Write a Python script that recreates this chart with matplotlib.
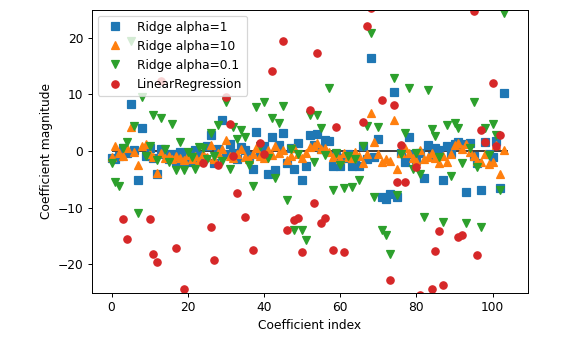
import numpy as np
import matplotlib
matplotlib.use("Agg")
import matplotlib.pyplot as plt

ridge1 = [
    -1.2, -1.5, -0.8, 0.5, -0.3, 8.3, 0.2, -5.1, 4.0, -0.9,
    0.6, -1.3, -4.1, 0.3, -0.6, -1.4, -0.5, -1.9, -0.2, -1.7,
    -0.4, -2.0, 0.2, -0.7, -1.3, 0.9, 2.8, -2.2, 0.4, 5.5,
    -0.6, 1.2, -0.3, -1.5, 0.7, 0.2, -0.9, -3.1, 3.4, -0.4,
    0.9, -4.0, 2.5, -3.4, 1.0, 3.1, -2.1, 0.5, -3.2, 1.4,
    -5.1, -2.6, 2.8, 1.1, 3.0, 0.4, 1.9, 1.7, -2.6, -0.8,
    -2.6, -1.2, -0.5, -2.6, -1.4, -2.6, 0.8, -1.5, 16.5, -1.0,
    2.1, -8.1, -8.5, -7.6, 10.5, -8.1, -0.3, -1.9, 2.5, -0.6,
    -1.6, -0.4, -4.8, 1.1, -0.9, 0.5, 0.2, -5.1, 0.9, -0.4,
    1.3, 1.6, 1.2, -7.2, 1.5, -0.9, -2.1, -6.9, 1.6, -0.5,
    -1.1, 1.8, -6.5, 10.3,
]

ridge10 = [
    -1.0, 0.8, -0.4, -0.9, 0.5, 4.3, -0.2, -2.5, 0.9, 1.2,
    -0.6, -1.1, -3.8, -0.3, -1.2, -0.8, -1.5, -0.9, -1.3, -1.6,
    -0.7, -1.4, -0.9, -1.8, -0.5, -1.1, 1.1, -1.5, -0.4, 0.3,
    1.9, -0.8, -1.2, -0.6, 0.4, -1.0, -1.4, -0.5, 0.6, -0.8,
    -1.3, 0.2, -0.7, 0.8, -0.4, 0.1, -1.6, -0.9, 0.5, -0.5,
    -1.2, -0.3, 0.7, 0.9, 1.4, 0.3, 0.6, -0.2, -1.0, -0.6,
    -1.5, -0.4, -1.1, -1.3, -0.2, -0.8, -2.1, -0.5, 6.8, 1.65,
    -0.6, -1.9, -1.5, -1.7, 5.5, -3.1, -0.3, 0.5, -0.4, -1.2,
    -1.8, 0.2, -1.4, -1.0, -0.4, -1.2, -2.2, -0.9, -1.9, -0.6,
    1.0, 1.5, 0.4, 1.2, -0.2, -0.8, -1.8, -2.0, -0.6, -2.3,
    -1.9, 1.0, -4.0, 0.2,
]

ridge01 = [
    -2.2, -5.4, -6.2, 0.6, 1.65, 19.35, 4.5, -11.0, 9.6, -0.8,
    0.9, 6.4, -1.6, 5.8, 0.4, -1.9, 4.8, -3.4, 1.65, -3.4,
    -0.2, -1.1, -3.1, 0.7, 0.5, -1.4, 3.1, -0.9, 4.6, -1.8,
    8.7, -3.1, 4.3, 2.2, 3.7, 2.5, -2.5, -6.2, 7.8, 0.9,
    8.7, -1.2, 5.8, -4.8, 5.0, 8.0, -8.6, 0.3, -14.0, -0.6,
    -14.0, -15.8, 6.4, -1.9, 6.4, 4.0, -0.7, 11.1, -6.9, -0.3,
    -2.5, -6.6, -0.9, -6.3, -1.5, -5.1, 0.8, 4.4, 20.8, -8.1,
    4.3, -14.0, -14.9, -18.2, 12.9, -7.8, -0.5, 3.1, 11.1, -3.1,
    -0.4, -4.0, -11.7, 10.7, 3.8, 2.7, -1.0, -12.5, 4.6, -4.5,
    4.9, 4.0, -2.2, -12.7, 0.6, 8.6, -2.8, -13.5, 4.0, -0.7,
    4.7, 2.8, -6.9, 24.4,
]

linreg = [
    38, -45, 31, -12.0, -15.6, 52, -33, 41, -29, 36,
    -12.0, -18.2, -19.6, 12.3, 44, -38, 30, -17.05, -41, -24.4,
    35, -30, 48, -36, -2.2, 40, -13.4, -19.3, -2.5, -34,
    9.6, 4.8, -0.9, -7.5, 43, -11.6, 29, -17.5, -40, 1.4,
    -0.5, 33, 14.2, -46, 37, 19.35, -13.9, 32, -12.2, -11.9,
    -17.8, -31, 7.2, -9.1, 17.3, -12.8, -11.9, 39, -17.5, 4.2,
    34, -17.8, -37, 45, -28, 30, 5.1, 22.1, 25.3, -42,
    36, 9.0, -33, -22.8, 8.1, -5.4, 1.1, -5.4, 41, -35,
    -2.8, -25.4, 47, -39, -24.3, -17.7, -14.1, -23.7, 31, -44,
    38, -15.2, -14.9, 35, -30, 24.7, -18.4, 3.7, 1.65, -36,
    12.0, 0.8, 2.8, 42,
]

labels = ["Ridge alpha=1", "Ridge alpha=10", "Ridge alpha=0.1", "LinearRegression"]

DPI = 88
fig = plt.figure(figsize=(565 / DPI, 338 / DPI), dpi=DPI)
ax = fig.add_axes([91.7 / 565, 1 - 292.5 / 338, 436 / 565, 283 / 338])

ax.plot(ridge1, 's', label=labels[0])
ax.plot(ridge10, '^', label=labels[1])
ax.plot(ridge01, 'v', label=labels[2])
ax.plot(linreg, 'o', label=labels[3])
ax.set_xlabel("Coefficient index")
ax.set_ylabel("Coefficient magnitude")
ax.hlines(0, 0, len(linreg), colors='#333333', zorder=1.5)
ax.set_ylim(-25, 25)
ax.legend(loc="upper left")

fig.savefig("out.png", dpi=DPI)
